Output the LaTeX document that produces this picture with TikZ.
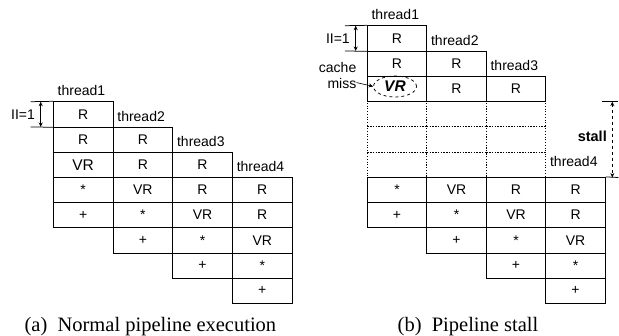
\documentclass[tikz,border=0pt]{standalone}
\usepackage{fontspec}
\setmainfont{Liberation Serif}
\setsansfont{Liberation Sans}
\usetikzlibrary{arrows.meta,shapes.geometric}

\tikzset{
    cell/.style={draw, line width=0.75pt, minimum width=59.6pt, minimum height=25.25pt,
        inner sep=0pt, font=\sffamily\fontsize{14}{16}\selectfont},
    gapcell/.style={cell, dotted},
    threadlabel/.style={anchor=south west, inner xsep=4.5pt, inner ysep=5pt,
        font=\sffamily\fontsize{14}{16}\selectfont},
    note/.style={inner sep=0pt, font=\sffamily\fontsize{14}{15.6}\selectfont},
    caption/.style={anchor=base, inner sep=0pt, font=\rmfamily\fontsize{20.5}{24}\selectfont},
    tick/.style={line width=0.75pt},
    span/.style={line width=0.75pt, {Stealth[length=4.5pt,width=4pt]}-{Stealth[length=4.5pt,width=4pt]}}
}

\begin{document}
\begin{tikzpicture}[x=1pt,y=-1pt]
            \useasboundingbox (0,0) rectangle (619,335);

            % (a) thread1
            \node[cell] (a1r0) at (83.15,114.3) {R};
            \node[cell] (a1r1) at (83.15,139.5) {R};
            \node[cell, font=\sffamily\fontsize{15.5}{16}\selectfont] (a1r2) at (83.15,164.7) {VR};
            \node[cell] (a1r3) at (83.15,189.9) {*};
            \node[cell] (a1r4) at (83.15,215.1) {+};

            % (a) thread2
            \node[cell] (a2r1) at (142.85,139.5) {R};
            \node[cell] (a2r2) at (142.85,164.7) {R};
            \node[cell] (a2r3) at (142.85,189.9) {VR};
            \node[cell] (a2r4) at (142.85,215.1) {*};
            \node[cell] (a2r5) at (142.85,240.3) {+};

            % (a) thread3
            \node[cell] (a3r2) at (202.55,164.7) {R};
            \node[cell] (a3r3) at (202.55,189.9) {R};
            \node[cell] (a3r4) at (202.55,215.1) {VR};
            \node[cell] (a3r5) at (202.55,240.3) {*};
            \node[cell] (a3r6) at (202.55,265.5) {+};

            % (a) thread4
            \node[cell] (a4r3) at (262.25,189.9) {R};
            \node[cell] (a4r4) at (262.25,215.1) {R};
            \node[cell] (a4r5) at (262.25,240.3) {VR};
            \node[cell] (a4r6) at (262.25,265.5) {*};
            \node[cell] (a4r7) at (262.25,290.7) {+};

            % (a) thread names
            \node[threadlabel] (a1name) at (a1r0.north west) {thread1};
            \node[threadlabel] (a2name) at (a2r1.north west) {thread2};
            \node[threadlabel] (a3name) at (a3r2.north west) {thread3};
            \node[threadlabel] (a4name) at (a4r3.north west) {thread4};

            % (a) initiation interval
            \node[note] (iia) at (23,114.3) {II=1};
            \coordinate (iiatop) at (30.7,101.7);
            \coordinate (iiabot) at (30.7,126.9);
            \draw[tick] (iiatop) -- (a1r0.north west);
            \draw[tick] (iiabot) -- (a1r0.south west);
            \draw[span] ([xshift=10pt]iiatop) -- ([xshift=10pt]iiabot);

            % (b) stalled rows
            \node[gapcell] (b1s3) at (397.05,114.11) {};
            \node[gapcell] (b1s4) at (397.05,139.37) {};
            \node[gapcell] (b1s5) at (397.05,164.63) {};
            \node[gapcell] (b2s3) at (456.55,114.11) {};
            \node[gapcell] (b2s4) at (456.55,139.37) {};
            \node[gapcell] (b2s5) at (456.55,164.63) {};
            \node[gapcell] (b3s3) at (516.05,114.11) {};
            \node[gapcell] (b3s4) at (516.05,139.37) {};
            \node[gapcell] (b3s5) at (516.05,164.63) {};

            % (b) thread1
            \node[cell] (b1r0) at (397.05,38.33) {R};
            \node[cell] (b1r1) at (397.05,63.59) {R};
            \node[cell] (b1r2) at (397.05,88.85) {};
            \node[cell] (b1r6) at (397.05,189.89) {*};
            \node[cell] (b1r7) at (397.05,215.15) {+};

            % (b) thread2
            \node[cell] (b2r1) at (456.55,63.59) {R};
            \node[cell] (b2r2) at (456.55,88.85) {R};
            \node[cell] (b2r6) at (456.55,189.89) {VR};
            \node[cell] (b2r7) at (456.55,215.15) {*};
            \node[cell] (b2r8) at (456.55,240.41) {+};

            % (b) thread3
            \node[cell] (b3r2) at (516.05,88.85) {R};
            \node[cell] (b3r6) at (516.05,189.89) {R};
            \node[cell] (b3r7) at (516.05,215.15) {VR};
            \node[cell] (b3r8) at (516.05,240.41) {*};
            \node[cell] (b3r9) at (516.05,265.67) {+};

            % (b) thread4
            \node[cell] (b4r6) at (575.55,189.89) {R};
            \node[cell] (b4r7) at (575.55,215.15) {R};
            \node[cell] (b4r8) at (575.55,240.41) {VR};
            \node[cell] (b4r9) at (575.55,265.67) {*};
            \node[cell] (b4r10) at (575.55,290.93) {+};

            % (b) thread names
            \node[threadlabel] (b1name) at (b1r0.north west) {thread1};
            \node[threadlabel] (b2name) at (b2r1.north west) {thread2};
            \node[threadlabel] (b3name) at (b3r2.north west) {thread3};
            \node[threadlabel, yshift=5pt] (b4name) at (b4r6.north west) {thread4};

            % (b) initiation interval
            \node[note] (iib) at (337.9,38.33) {II=1};
            \coordinate (iibtop) at (345,25.7);
            \coordinate (iibbot) at (345,50.96);
            \draw[tick] (iibtop) -- (b1r0.north west);
            \draw[tick] (iibbot) -- (b1r0.south west);
            \draw[span] ([xshift=10.7pt]iibtop) -- ([xshift=10.7pt]iibbot);

            % (b) cache miss
            \node[ellipse, draw, dashed, line width=0.75pt, minimum width=43pt, minimum height=21pt,
                inner sep=0pt, font=\sffamily\bfseries\itshape\fontsize{15.5}{16}\selectfont]
                (vrmiss) at (395,86.5) {VR};
            \node[note, align=right, anchor=east] (miss) at (356.5,75.5) {cache\\miss};
            \draw[line width=0.6pt, -{Stealth[length=4.5pt,width=4pt]}] ([yshift=-7pt]miss.east)
                to[out=-15,in=165] (vrmiss.west);

            % (b) stall
            \coordinate (stalltl) at (601.7,101.6);
            \coordinate (stalltr) at (618.3,101.6);
            \coordinate (stallbr) at (618.3,177.5);
            \draw[tick] (stalltl) -- (stalltr);
            \draw[tick] (b4r6.north east) -- (stallbr);
            \draw[span, dashed] ([xshift=-6pt]stalltr) -- ([xshift=-6pt]stallbr);
            \node[note, anchor=east, font=\sffamily\bfseries\fontsize{14.5}{16}\selectfont] (stall) at (607,136.5) {stall};

            % captions
            \node[caption] (capa) at (150.4,331.5) {(a)\enspace Normal pipeline execution};
            \node[caption] (capb) at (468,331.5) {(b)\enspace Pipeline stall};
        \end{tikzpicture}
\end{document}
